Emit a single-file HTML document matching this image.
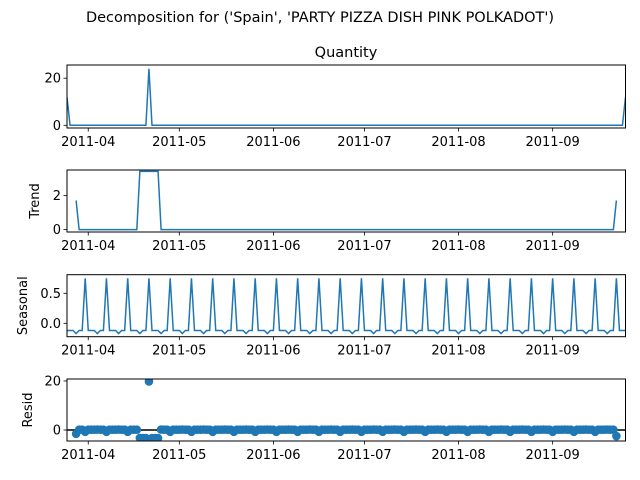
<!DOCTYPE html>
<html><head><meta charset="utf-8"><style>
body{margin:0;background:#fff;}
svg{display:block;font-family:"DejaVu Sans","Liberation Sans",sans-serif;}
</style></head><body>
<svg id="chart" width="640" height="480">
<text x="320" y="22" font-size="14.5" text-anchor="middle">Decomposition for ('Spain', 'PARTY PIZZA DISH PINK POLKADOT')</text>
<text x="346" y="57" font-size="14.5" text-anchor="middle">Quantity</text>
</svg>
<script>
// Data: daily series starting 2011-03-25, 185 days
const startDate = "2011-03-25";
const observedIdx = [0, 27, 184];
const observedVal = [12, 24, 12];
const nDays = 185;
const seasonalPattern = [-0.12, -0.12, -0.12, -0.17, -0.12, -0.12, 0.75];
const monthTicks = ["2011-04", "2011-05", "2011-06", "2011-07", "2011-08", "2011-09"];
const monthTickDay = [7, 37, 68, 98, 129, 160];

const observed = new Array(nDays).fill(0);
observedIdx.forEach((d, i) => { observed[d] = observedVal[i]; });
const trend = observed.map((v, i) => {
  if (i < 3 || i > nDays - 4) return null;
  let s = 0; for (let k = -3; k <= 3; k++) s += observed[i + k]; return s / 7;
});
const seasonal = observed.map((v, i) => seasonalPattern[i % 7]);
const resid = observed.map((v, i) => trend[i] === null ? null : v - trend[i] - seasonal[i]);

const svg = document.getElementById('chart');
const NS = 'http://www.w3.org/2000/svg';
const X0 = 67, X1 = 625.5;
const xs = d => X0 + d * (X1 - X0) / (nDays - 1);
function mk(tag, attrs, parent) {
  const e = document.createElementNS(NS, tag);
  for (const k in attrs) e.setAttribute(k, attrs[k]);
  (parent || svg).appendChild(e); return e;
}
const panels = [
  {name:'observed', top:65, bot:128, ymin:-1.15, ymax:25.6, ticks:[0,20], fmt:v=>v, label:null, data:observed, kind:'line'},
  {name:'trend', top:170, bot:232, ymin:-0.14, ymax:3.51, ticks:[0,2], fmt:v=>v, label:'Trend', data:trend, kind:'line'},
  {name:'seasonal', top:274.7, bot:336.7, ymin:-0.223, ymax:0.81, ticks:[0,0.5], fmt:v=>v.toFixed(1), label:'Seasonal', data:seasonal, kind:'line'},
  {name:'resid', top:379, bot:441, ymin:-4.49, ymax:20.8, ticks:[0,20], fmt:v=>v, label:'Resid', data:resid, kind:'scatter'}
];
panels.forEach(p => {
  const ys = v => p.bot - (v - p.ymin) / (p.ymax - p.ymin) * (p.bot - p.top);
  const g = mk('g', {});
  
  
  const clipId = 'clip-' + p.name;
  const cp = mk('clipPath', {id: clipId}, g);
  mk('rect', {x: X0, y: p.top, width: X1 - X0, height: p.bot - p.top}, cp);
  if (p.kind === 'line') {
    let d = '', pen = false;
    p.data.forEach((v, i) => {
      if (v === null) { pen = false; return; }
      d += (pen ? 'L' : 'M') + xs(i).toFixed(2) + ',' + ys(v).toFixed(2); pen = true;
    });
    const path = mk('path', {d: d, fill: 'none', stroke: '#1f77b4', 'stroke-width': 1.5, 'clip-path': 'url(#' + clipId + ')'}, g);
    
    
  } else {
    const zl = mk('line', {x1: X0, x2: X1, y1: ys(0), y2: ys(0), stroke: '#000', 'stroke-width': 1.5}, g);
    
    
    p.data.forEach((v, i) => {
      if (v === null) return;
      const c = mk('circle', {cx: xs(i), cy: ys(v), r: 4.3, fill: '#1f77b4', 'clip-path': 'url(#' + clipId + ')'}, g);
      
      
    });
  }
  const fr = mk('rect', {x: X0, y: p.top, width: X1 - X0, height: p.bot - p.top, fill: 'none', stroke: '#000', 'stroke-width': 1}, g);
  
  
  p.ticks.forEach(t => {
    const y = ys(t);
    mk('line', {x1: X0 - 3.5, x2: X0, y1: y, y2: y, stroke: '#000', 'stroke-width': 0.8}, g);
    const tx = mk('text', {x: X0 - 6, y: y + 4.5, 'font-size': 13, 'text-anchor': 'end'}, g);
    tx.textContent = p.fmt(t);
    
    
  });
  monthTicks.forEach((m, i) => {
    const x = xs(monthTickDay[i]);
    mk('line', {x1: x, x2: x, y1: p.bot, y2: p.bot + 3.5, stroke: '#000', 'stroke-width': 0.8}, g);
    const tx = mk('text', {x: x, y: p.bot + 18, 'font-size': 13, 'text-anchor': 'middle'}, g);
    tx.textContent = m;
    
    
  });
  if (p.label) {
    const cy = (p.top + p.bot) / 2;
    const lx = p.name === 'trend' ? 39 : (p.name === 'seasonal' ? 27 : 32);
    const lt = mk('text', {x: lx, y: cy, 'font-size': 13, 'text-anchor': 'middle', transform: 'rotate(-90 ' + lx + ' ' + cy + ')'}, g);
    lt.textContent = p.label;
    
    
  }
});
</script>
</body></html>
